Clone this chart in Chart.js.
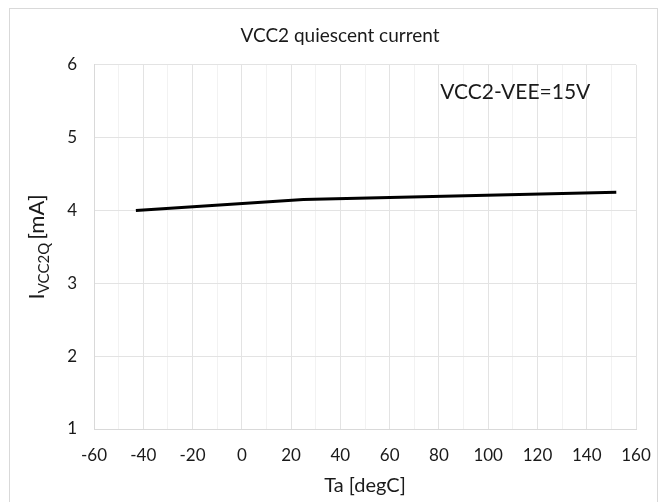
<!DOCTYPE html>
<html>
<head>
<meta charset="utf-8">
<script src="https://cdn.jsdelivr.net/npm/chart.js@4.4.0/dist/chart.umd.min.js"></script>
<style>
  body { margin: 0; background: #fff; }
  #frame { position: absolute; left: 9px; top: 8px; width: 649px; height: 520px; border: 1px solid #d9d9d9; box-sizing: border-box; }
  #wrap { position: absolute; left: 0; top: 0; width: 661px; height: 502px; }
</style>
</head>
<body>
<div id="frame"></div>
<div id="wrap"><canvas id="canvas" width="661" height="502"></canvas></div>
<script>
// data
const temps = [-43, 25, 152];
const current = [4.00, 4.15, 4.25];
const xTicks = [-60, -40, -20, 0, 20, 40, 60, 80, 100, 120, 140, 160];
const yTicks = [1, 2, 3, 4, 5, 6];
const note = 'VCC2-VEE=15V';

const fontFam = 'Lato, "Open Sans", sans-serif';
const textCol = '#1a1a1a';

// y title with subscript + condition note
const extraText = {
    id: 'extraText',
    afterDraw(chart) {
        const ctx = chart.ctx;
        const area = chart.chartArea;
        const xs = chart.scales.x, ys = chart.scales.y;
        ctx.save();
        ctx.fillStyle = textCol;
        // note
        ctx.font = '21px ' + fontFam;
        ctx.textAlign = 'center';
        ctx.textBaseline = 'middle';
        ctx.fillText(note, xs.getPixelForValue(111), ys.getPixelForValue(5.62));
        // y axis title
        ctx.translate(37, (area.top + area.bottom) / 2);
        ctx.rotate(-Math.PI / 2);
        ctx.font = '22px ' + fontFam;
        const w1 = ctx.measureText('I').width;
        ctx.font = '15px ' + fontFam;
        const w2 = ctx.measureText('VCC2Q').width;
        ctx.font = '22px ' + fontFam;
        const w3 = ctx.measureText('[mA]').width;
        const total = w1 + w2 + 3 + w3;
        let x = -total / 2;
        ctx.textAlign = 'left';
        ctx.textBaseline = 'alphabetic';
        ctx.fillText('I', x, 7);
        x += w1;
        ctx.font = '15px ' + fontFam;
        ctx.fillText('VCC2Q', x, 12);
        x += w2 + 3;
        ctx.font = '22px ' + fontFam;
        ctx.fillText('[mA]', x, 7);
        ctx.restore();
    }
};

const ctx = document.getElementById('canvas').getContext('2d');
const myChart = new Chart(ctx, {
    type: 'line',
    data: {
        datasets: [{
            data: temps.map(function(t, i) { return { x: t, y: current[i] }; }),
            borderColor: '#000',
            borderWidth: 3,
            pointRadius: 0,
            tension: 0
        }]
    },
    options: {
        responsive: false,
        animation: false,
        layout: {
            padding: { left: 44, right: 25, top: 8, bottom: 0 }
        },
        scales: {
            x: {
                type: 'linear',
                min: -60,
                max: 160,
                afterBuildTicks: function(scale) {
                    const t = [];
                    for (let v = -60; v <= 160; v += 10) t.push({ value: v });
                    scale.ticks = t;
                },
                afterFit: function(scale) {
                    scale.height = 73;
                    scale.paddingLeft = 0;
                    scale.paddingRight = 0;
                },
                ticks: {
                    autoSkip: false,
                    maxRotation: 0,
                    color: textCol,
                    font: { family: fontFam, size: 17 },
                    padding: 16,
                    callback: function(v) { return xTicks.indexOf(v) >= 0 ? String(v) : ''; }
                },
                grid: {
                    color: function(c) { return xTicks.indexOf(c.tick.value) >= 0 ? '#e3e3e3' : '#f2f2f2'; },
                    drawTicks: false
                },
                border: { color: '#d9d9d9' },
                title: {
                    display: true,
                    text: 'Ta [degC]',
                    color: textCol,
                    font: { family: fontFam, size: 20 },
                    padding: { top: 0 }
                }
            },
            y: {
                min: 1,
                max: 6,
                afterBuildTicks: function(scale) {
                    scale.ticks = yTicks.map(function(v) { return { value: v }; });
                },
                afterFit: function(scale) {
                    scale.width = 50;
                    scale.paddingTop = 0;
                    scale.paddingBottom = 0;
                },
                ticks: {
                    color: textCol,
                    font: { family: fontFam, size: 17 },
                    padding: 17
                },
                grid: { color: '#e3e3e3', drawTicks: false },
                border: { color: '#d9d9d9' }
            }
        },
        plugins: {
            legend: { display: false },
            tooltip: { enabled: false },
            title: {
                display: true,
                text: 'VCC2 quiescent current',
                color: textCol,
                font: { family: fontFam, size: 19, weight: 'normal' },
                padding: { top: 16, bottom: 18 }
            }
        }
    },
    plugins: [extraText]
});
</script>
</body>
</html>
